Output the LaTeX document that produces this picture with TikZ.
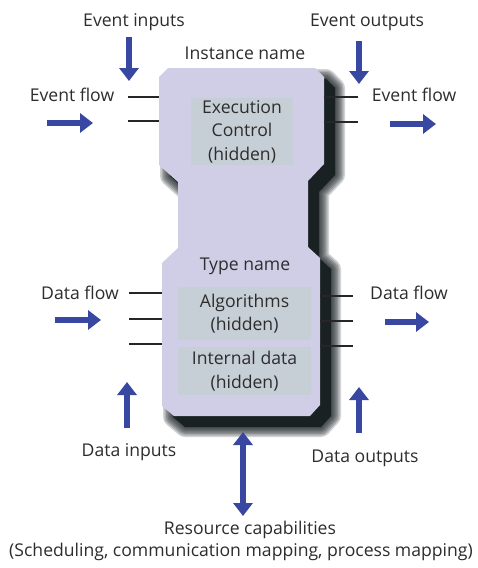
\documentclass[tikz,border=0pt]{standalone}
\usepackage{fontspec}
\setmainfont{Open Sans}
\usetikzlibrary{arrows.meta}
\definecolor{lav}{RGB}{207,206,230}
\definecolor{hid}{RGB}{199,207,214}
\definecolor{ablue}{RGB}{55,71,162}
\definecolor{txt}{RGB}{45,45,45}
\definecolor{shad}{RGB}{25,33,35}
\newcommand{\bodyoutline}{(168,68) -- (315,68) -- (324,77) -- (324,164) -- (308,181) -- (308,247)
  -- (320,258) -- (320,405) -- (310,416) -- (174,416) -- (162,406) -- (162,263)
  -- (178,248) -- (178,182) -- (159,165) -- (159,77) -- cycle}
\begin{document}
\begin{tikzpicture}[x=1pt,y=-1pt,
  lbl/.style={font=\fontsize{17.6}{19}\selectfont, text=txt, inner sep=0pt},
  hidbox/.style={fill=hid, draw=none, inner sep=0pt, align=center, text=txt,
    font=\fontsize{17.6}{23.5}\selectfont},
  stub/.style={line width=1.4pt, draw=black!85},
  barrow/.style={line width=6pt, draw=ablue, -{Triangle[width=19pt,length=13pt]}},
  darrow/.style={line width=6pt, draw=ablue, {Triangle[width=19pt,length=13pt]}-{Triangle[width=19pt,length=13pt]}},
  shadlayer/.style={draw=shad, line join=round, opacity=0.2},
  body/.style={fill=lav, draw=none}]
\useasboundingbox (0,0) rectangle (477,568);
\fill[white] (0,0) rectangle (477,568);
% shadow
\begin{scope}[shift={(11,11)}]
  \foreach \w in {20,17,14,11,8,5,2} {
    \path[shadlayer, line width=\w pt] \bodyoutline;
  }
  \fill[shad] \bodyoutline;
\end{scope}
% body
\path[body] \bodyoutline;
% hidden boxes
\node[hidbox, minimum width=102pt, minimum height=67pt] (exec) at (242,131.5)
  {Execution\\Control\\(hidden)};
\node[hidbox, minimum width=133pt, minimum height=53pt] (algo) at (244.5,313.5)
  {Algorithms\\(hidden)};
\node[hidbox, minimum width=133pt, minimum height=48pt] (idata) at (244.5,371)
  {Internal data\\(hidden)};
% labels
\node[lbl] (instname) at (245,53) {Instance name};
\node[lbl] (typename) at (245,266) {Type name};
\node[lbl] (evin) at (134,22) {Event inputs};
\node[lbl] (evout) at (367,22) {Event outputs};
\node[lbl] (evflowl) at (72,95) {Event flow};
\node[lbl] (evflowr) at (414,95) {Event flow};
\node[lbl] (dflowl) at (80,293) {Data flow};
\node[lbl] (dflowr) at (409,293) {Data flow};
\node[lbl] (din) at (129,452) {Data inputs};
\node[lbl] (dout) at (365,458) {Data outputs};
\node[lbl] (res) at (250,530) {Resource capabilities};
\node[lbl] (res2) at (241,552) {(Scheduling, communication mapping, process mapping)};
% stubs
\coordinate (sl1a) at (128,97);  \coordinate (sl1b) at (159,97);
\coordinate (sl2a) at (128,121); \coordinate (sl2b) at (159,121);
\coordinate (sr1a) at (324,97);  \coordinate (sr1b) at (358,97);
\coordinate (sr2a) at (324,122); \coordinate (sr2b) at (358,122);
\coordinate (dl1a) at (129,293); \coordinate (dl1b) at (162,293);
\coordinate (dl2a) at (129,319); \coordinate (dl2b) at (162,319);
\coordinate (dl3a) at (129,344); \coordinate (dl3b) at (162,344);
\coordinate (dr1a) at (320,296); \coordinate (dr1b) at (353,296);
\coordinate (dr2a) at (320,321); \coordinate (dr2b) at (353,321);
\coordinate (dr3a) at (320,346); \coordinate (dr3b) at (353,346);
\draw[stub] (sl1a) -- (sl1b);
\draw[stub] (sl2a) -- (sl2b);
\draw[stub] (sr1a) -- (sr1b);
\draw[stub] (sr2a) -- (sr2b);
\draw[stub] (dl1a) -- (dl1b);
\draw[stub] (dl2a) -- (dl2b);
\draw[stub] (dl3a) -- (dl3b);
\draw[stub] (dr1a) -- (dr1b);
\draw[stub] (dr2a) -- (dr2b);
\draw[stub] (dr3a) -- (dr3b);
% blue arrows
\coordinate (ei1) at (129,37);  \coordinate (ei2) at (129,81);
\coordinate (eo1) at (359,41);  \coordinate (eo2) at (359,84);
\coordinate (efl1) at (47,123); \coordinate (efl2) at (93,123);
\coordinate (efr1) at (390,124); \coordinate (efr2) at (436,124);
\coordinate (dfl1) at (55,320); \coordinate (dfl2) at (101,320);
\coordinate (dfr1) at (385,322); \coordinate (dfr2) at (429,322);
\coordinate (di1) at (127,428); \coordinate (di2) at (127,382);
\coordinate (do1) at (359,433); \coordinate (do2) at (359,387);
\coordinate (rc1) at (243,432); \coordinate (rc2) at (243,516);
\draw[barrow] (ei1) -- (ei2);
\draw[barrow] (eo1) -- (eo2);
\draw[barrow] (efl1) -- (efl2);
\draw[barrow] (efr1) -- (efr2);
\draw[barrow] (dfl1) -- (dfl2);
\draw[barrow] (dfr1) -- (dfr2);
\draw[barrow] (di1) -- (di2);
\draw[barrow] (do1) -- (do2);
\draw[darrow] (rc1) -- (rc2);
\end{tikzpicture}
\end{document}
